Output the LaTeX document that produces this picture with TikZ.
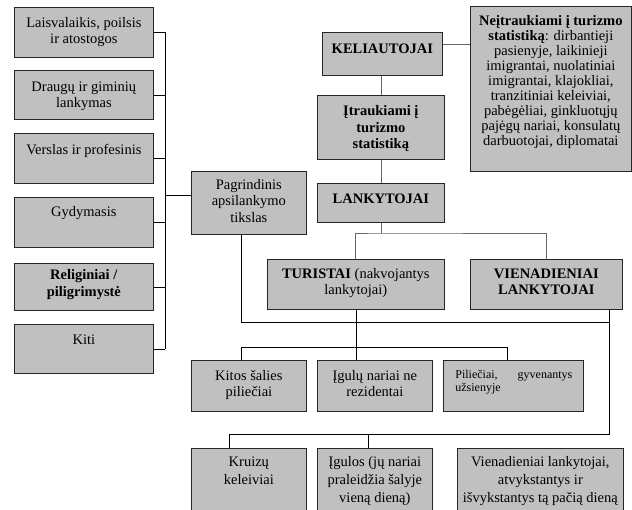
\documentclass[tikz,border=0pt]{standalone}
\usepackage{fontspec}
\setmainfont{Liberation Serif}
\definecolor{boxgray}{RGB}{192,192,192}
\newcommand\bxt[4]{\parbox[t][#2][t]{#1}{\centering\vspace*{#3}\strut #4\par}}
\begin{document}
\begin{tikzpicture}[x=1pt,y=-1pt,
  box/.style={draw=black!85, fill=boxgray, inner sep=0pt, anchor=north west, line width=0.7pt,
    font=\fontsize{14.5}{16.5}\selectfont},
  lnk/.style={line width=0.6pt, draw=black},
  lng/.style={line width=0.8pt, draw=black!60}]
\useasboundingbox (0,0) rectangle (632,510);
\clip (0,0) rectangle (632,510);
% left column
\node[box] (l1) at (14,7) {\bxt{139pt}{50pt}{8.5pt}{Laisvalaikis, poilsis\\ ir atostogos}};
\node[box] (l2) at (14,70) {\bxt{139pt}{49pt}{9.5pt}{Draugų ir giminių\\ lankymas}};
\node[box] (l3) at (14,133) {\bxt{139pt}{50pt}{10pt}{Verslas ir profesinis}};
\node[box] (l4) at (14,197) {\bxt{139pt}{50pt}{8pt}{Gydymasis}};
\node[box] (l5) at (14,263) {\bxt{139pt}{47pt}{5pt}{\textbf{Religiniai /}\\ \textbf{piligrimystė}}};
\node[box] (l6) at (14,324) {\bxt{139pt}{49pt}{8.5pt}{Kiti}};
% purpose
\node[box] (pag) at (191,171) {\bxt{115pt}{63pt}{6.5pt}{Pagrindinis\\ apsilankymo\\ tikslas}};
% center column
\node[box] (kel) at (322,32) {\bxt{120pt}{43pt}{9.5pt}{\textbf{KELIAUTOJAI}}};
\node[box] (itr) at (317,95) {\bxt{127pt}{64pt}{9pt}{\textbf{Įtraukiami į}\\ \textbf{turizmo}\\ \textbf{statistiką}}};
\node[box,font=\fontsize{14.5}{15}\selectfont] (neit) at (470,6) {\bxt{161pt}{165pt}{8.5pt}{\textbf{Neįtraukiami į turizmo}\\ \textbf{statistiką}: dirbantieji\\ pasienyje, laikinieji\\ imigrantai, nuolatiniai\\ imigrantai, klajokliai,\\ tranzitiniai keleiviai,\\ pabėgėliai, ginkluotųjų\\ pajėgų nariai, konsulatų\\ darbuotojai, diplomatai}};
\node[box] (lank) at (317,183) {\bxt{127pt}{39pt}{8.5pt}{\textbf{LANKYTOJAI}}};
\node[box] (tur) at (267,259) {\bxt{177pt}{50pt}{7.5pt}{\textbf{TURISTAI} (nakvojantys\\ lankytojai)}};
\node[box] (vien) at (470,259) {\bxt{152pt}{50pt}{7.5pt}{\textbf{VIENADIENIAI}\\ \textbf{LANKYTOJAI}}};
% tourists row
\node[box] (kit) at (191,360) {\bxt{115pt}{51pt}{8.5pt}{Kitos šalies\\ piliečiai}};
\node[box] (igu) at (317,360) {\bxt{115pt}{51pt}{8.5pt}{Įgulų nariai ne\\ rezidentai}};
\node[box] (pil) at (443,360) {\parbox[t][51pt][t]{140pt}{\vspace*{8.5pt}\hspace*{12pt}\parbox[t]{117pt}{\fontsize{12}{13.5}\selectfont\strut Piliečiai,\hfill gyvenantys\\ užsienyje}}};
% same-day row
\node[box] (kru) at (191,448) {\bxt{115pt}{70pt}{6.5pt}{\fontsize{14.5}{18}\selectfont Kruizų\\ keleiviai}};
\node[box] (igl) at (317,448) {\bxt{115pt}{70pt}{6.5pt}{\fontsize{14.5}{18}\selectfont Įgulos (jų nariai\\ praleidžia šalyje\\ vieną dieną)}};
\node[box] (vdl) at (457,448) {\bxt{166pt}{70pt}{6.5pt}{\fontsize{14.5}{18}\selectfont Vienadieniai lankytojai,\\ atvykstantys ir\\ išvykstantys tą pačią dieną}};
% coordinates
\coordinate (bus) at (165,0);
\coordinate (pj) at (165,195);
\coordinate (pd) at (241,322);
\coordinate (vd) at (609,434);
\coordinate (kd) at (229,434);
\coordinate (gd) at (368,434);
\coordinate (kn) at (0,44);
\coordinate (cx) at (381,0);
\coordinate (lj) at (381,233);
\coordinate (ta) at (241,347);
\coordinate (tb) at (507,347);
% left links
\foreach \b in {l1,l2,l3,l4,l5,l6} {\draw[lnk] (\b.east) -- (\b.east -| bus);}
\draw[lnk] (l1.east -| bus) -- (l6.east -| bus);
\draw[lnk] (pj) -- (pj -| pag.west);
\draw[lnk] (pd |- pag.south) -- (pd) -- (pd -| vd);
\draw[lnk] (vd |- vien.south) -- (vd) -- (kd) -- (kd |- kru.north);
\draw[lnk] (gd) -- (gd |- igl.north);
% center links
\draw[lng] (kn -| kel.east) -- (kn -| neit.west);
\draw[lng] (cx |- kel.south) -- (cx |- itr.north);
\draw[lng] (cx |- itr.south) -- (cx |- lank.north);
\draw[lng] (cx |- lank.south) -- (lj);
\draw[lng] (tur.north) |- (lj) -| (vien.north);
\draw[lnk] (tur.south) -- (tur.south |- igu.north);
\draw[lnk] (ta |- kit.north) -- (ta) -- (tb) -- (tb |- pil.north);
\end{tikzpicture}
\end{document}
